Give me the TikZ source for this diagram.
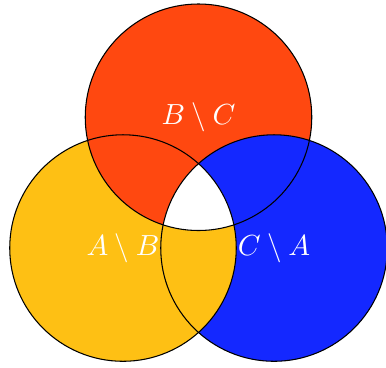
\documentclass[tikz,border=0pt]{standalone}
\usepackage{tikz}
\definecolor{setred}{RGB}{255,72,16}
\definecolor{setyellow}{RGB}{254,192,20}
\definecolor{setblue}{RGB}{20,40,255}

\begin{document}
\begin{tikzpicture}[
  font=\fontsize{10.6}{12.5}\selectfont,
  ring/.style={draw=black, thin},
  fillA/.style={fill=setyellow},
  fillB/.style={fill=setred},
  fillC/.style={fill=setblue},
  lbl/.style={text=white, inner sep=1pt}
]
\def\rad{1.5}
\useasboundingbox (-1.629,-1.576) rectangle (3.483,3.285);
% --- centres ---------------------------------------------------------------
\coordinate (a) at (0,0);
\coordinate (b) at (1,1.732);
\coordinate (c) at (2,0);

% --- fills -----------------------------------------------------------------
\path[fillA] (a) circle (\rad);
\path[fillB] (b) circle (\rad);
\path[fillC] (c) circle (\rad);
\begin{scope}
  \clip (a) circle (\rad);
  \path[fillA] (c) circle (\rad);
\end{scope}
\begin{scope}
  \clip (a) circle (\rad);
  \clip (c) circle (\rad);
  \fill[white] (b) circle (\rad);
\end{scope}

% --- outlines --------------------------------------------------------------
\foreach \p in {a,b,c} \draw[ring] (\p) circle (\rad);

% --- labels ----------------------------------------------------------------
\node[lbl] (la) at (a) {$A \setminus B$};
\node[lbl] (lb) at (b) {$B \setminus C$};
\node[lbl] (lc) at (c) {$C \setminus A$};
\end{tikzpicture}
\end{document}
